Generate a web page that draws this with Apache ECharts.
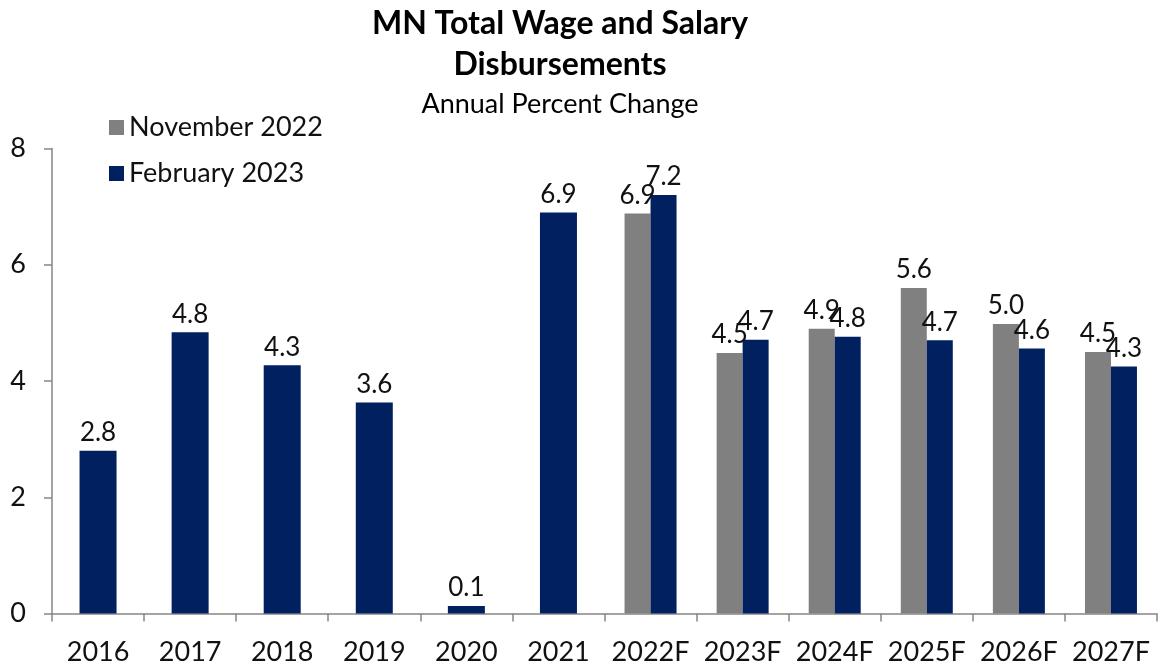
<!DOCTYPE html>
<html>
<head>
<meta charset="utf-8">
<script src="https://cdn.jsdelivr.net/npm/echarts@6/dist/echarts.min.js"></script>
<style>
  html, body { margin: 0; padding: 0; background: #fff; }
  #chart { width: 1159px; height: 666px; }
</style>
</head>
<body>
<div id="chart"></div>
<script>
const years = ['2016', '2017', '2018', '2019', '2020', '2021',
  '2022F', '2023F', '2024F', '2025F', '2026F', '2027F'];
// history years only have the February 2023 series (one wide bar)
const febHistory = [2.8, 4.84, 4.27, 3.63, 0.13, 6.9, null, null, null, null, null, null];
const novForecast = [null, null, null, null, null, null, 6.88, 4.48, 4.9, 5.6, 4.98, 4.5];
const febForecast = [null, null, null, null, null, null, 7.2, 4.71, 4.76, 4.7, 4.56, 4.25];
const yTicks = [0, 2, 4, 6, 8];

const font = 'Lato';
const navy = '#002060';
const grey = '#808080';
const axisGrey = '#868686';

const labelOpt = {
  show: true,
  position: 'top',
  distance: 5,
  fontFamily: font,
  fontSize: 26,
  color: '#111',
  formatter: (p) => p.value.toFixed(1)
};

const chart = echarts.init(document.getElementById('chart'));
chart.setOption({
  animation: false,
  textStyle: { fontFamily: font },
  graphic: [
    {
      type: 'text',
      style: {
        text: 'MN Total Wage and Salary\nDisbursements',
        x: 560, y: 3, textAlign: 'center',
        font: 'bold 32px ' + font, lineHeight: 41, fill: '#000'
      }
    },
    {
      type: 'text',
      style: {
        text: 'Annual Percent Change',
        x: 560, y: 91, textAlign: 'center',
        font: '27px ' + font, fill: '#000'
      }
    }
  ],
  legend: {
    data: ['November 2022', 'February 2023'],
    orient: 'vertical',
    left: 104,
    top: 109,
    itemWidth: 15,
    itemHeight: 15,
    itemGap: 19,
    icon: 'rect',
    textStyle: { fontFamily: font, fontSize: 27, color: '#111' }
  },
  grid: { left: 52, right: 2, top: 148.5, bottom: 52.5 },
  xAxis: [
    {
      type: 'category',
      data: years,
      axisLine: { lineStyle: { color: axisGrey, width: 1.5 } },
      axisTick: { show: true, length: 8, lineStyle: { color: axisGrey, width: 1.5 } },
      axisLabel: { interval: 0, fontFamily: font, fontSize: 27, color: '#111', margin: 25 }
    },
    {
      type: 'category',
      data: years,
      show: false
    }
  ],
  yAxis: {
    type: 'value',
    min: yTicks[0],
    max: yTicks[yTicks.length - 1],
    interval: 2,
    axisLine: { show: true, lineStyle: { color: axisGrey, width: 1.5 } },
    axisTick: { show: true, length: 8, lineStyle: { color: axisGrey, width: 1.5 } },
    splitLine: { show: false },
    axisLabel: { fontFamily: font, fontSize: 27, color: '#111', margin: 26 }
  },
  series: [
    {
      name: 'November 2022',
      type: 'bar',
      xAxisIndex: 0,
      data: novForecast,
      barWidth: 26,
      barGap: '0%',
      itemStyle: { color: grey },
      label: labelOpt
    },
    {
      name: 'February 2023',
      type: 'bar',
      xAxisIndex: 0,
      data: febForecast,
      barWidth: 26,
      barGap: '0%',
      itemStyle: { color: navy },
      label: labelOpt
    },
    {
      name: 'February 2023',
      type: 'bar',
      xAxisIndex: 1,
      data: febHistory,
      barWidth: 37,
      itemStyle: { color: navy },
      label: labelOpt
    }
  ]
});
</script>
</body>
</html>
